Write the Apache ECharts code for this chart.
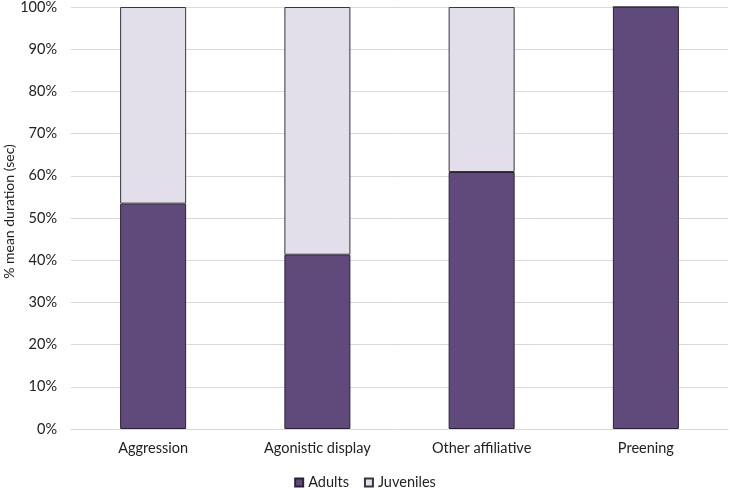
<!DOCTYPE html>
<html><head><meta charset="utf-8">
<script src="https://cdn.jsdelivr.net/npm/echarts@6/dist/echarts.min.js"></script>
<style>html,body{margin:0;padding:0;background:#fff}#c{width:730px;height:488px}</style>
</head><body><div id="c"></div>
<script>
const categories = ["Aggression", "Agonistic display", "Other affiliative", "Preening"];
const adults = [53.4, 41.3, 60.9, 100];
const juveniles = [46.6, 58.7, 39.1, 0];
const yTicks = [0, 10, 20, 30, 40, 50, 60, 70, 80, 90, 100];
const font = "Lato, 'Open Sans', sans-serif";
const chart = echarts.init(document.getElementById('c'), null, {renderer: 'canvas'});
chart.setOption({
  animation: false,
  textStyle: {fontFamily: font},
  grid: {left: 71, right: 2, top: 7, bottom: 59, containLabel: false, outerBoundsMode: 'none'},
  legend: {
    top: 470, left: 'center', itemWidth: 8, itemHeight: 8, itemGap: 15,
    icon: 'rect',
    textStyle: {fontSize: 14.5, color: '#222', fontFamily: font},
    data: ['Adults', 'Juveniles']
  },
  xAxis: {
    type: 'category', data: categories,
    axisLine: {show: true, lineStyle: {color: '#d9d9d9'}},
    axisTick: {show: false},
    axisLabel: {fontSize: 14.5, color: '#222', margin: 12, fontFamily: font}
  },
  yAxis: {
    type: 'value', min: yTicks[0], max: yTicks[yTicks.length - 1], interval: 10,
    name: '% mean duration (sec)', nameLocation: 'middle', nameGap: 55, nameRotate: 90,
    nameMoveOverlap: false,
    nameTextStyle: {fontSize: 14, color: '#222', fontFamily: font, padding: [0, 0, 0, 13]},
    axisLine: {show: false}, axisTick: {show: false},
    axisLabel: {formatter: '{value}%', fontSize: 14.5, color: '#222', margin: 14, fontFamily: font},
    splitLine: {lineStyle: {color: '#d9d9d9'}}
  },
  series: [
    {name: 'Adults', type: 'bar', stack: 's', data: adults, barWidth: 66,
     itemStyle: {color: '#604a7b', borderColor: '#2b2136', borderWidth: 1}},
    {name: 'Juveniles', type: 'bar', stack: 's', data: juveniles, barWidth: 66,
     itemStyle: {color: '#e2dfeb', borderColor: '#3a3340', borderWidth: 1}}
  ]
});
</script></body></html>
